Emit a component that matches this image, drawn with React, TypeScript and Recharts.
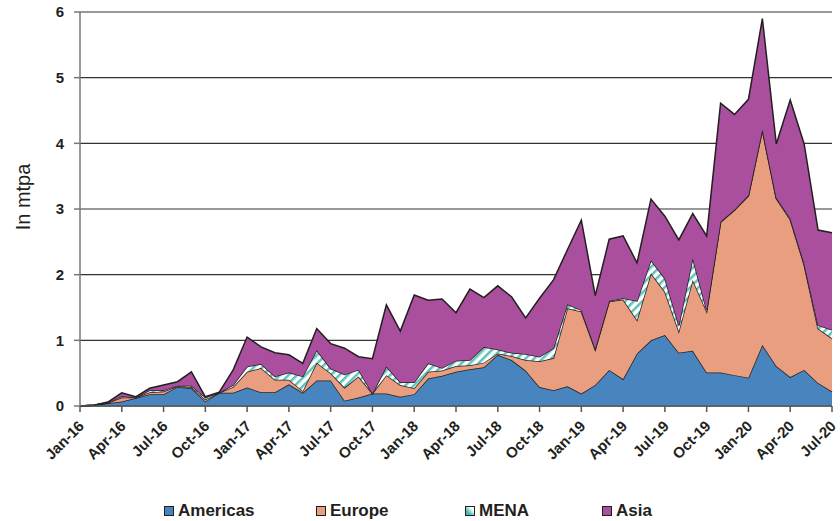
import { AreaChart, Area, XAxis, YAxis, CartesianGrid } from 'recharts';

const months = [
  'Jan-16', 'Feb-16', 'Mar-16', 'Apr-16', 'May-16', 'Jun-16', 'Jul-16', 'Aug-16', 'Sep-16', 'Oct-16', 'Nov-16', 'Dec-16',
  'Jan-17', 'Feb-17', 'Mar-17', 'Apr-17', 'May-17', 'Jun-17', 'Jul-17', 'Aug-17', 'Sep-17', 'Oct-17', 'Nov-17', 'Dec-17',
  'Jan-18', 'Feb-18', 'Mar-18', 'Apr-18', 'May-18', 'Jun-18', 'Jul-18', 'Aug-18', 'Sep-18', 'Oct-18', 'Nov-18', 'Dec-18',
  'Jan-19', 'Feb-19', 'Mar-19', 'Apr-19', 'May-19', 'Jun-19', 'Jul-19', 'Aug-19', 'Sep-19', 'Oct-19', 'Nov-19', 'Dec-19',
  'Jan-20', 'Feb-20', 'Mar-20', 'Apr-20', 'May-20', 'Jun-20', 'Jul-20',
];

// mtpa per region, one value per month
const americas = [
  0, 0.01, 0.04, 0.07, 0.12, 0.18, 0.18, 0.29, 0.27, 0.07, 0.2, 0.2,
  0.28, 0.21, 0.21, 0.33, 0.2, 0.39, 0.39, 0.08, 0.13, 0.19, 0.19, 0.14,
  0.18, 0.42, 0.46, 0.52, 0.56, 0.59, 0.78, 0.7, 0.54, 0.29, 0.24, 0.3,
  0.19, 0.32, 0.55, 0.41, 0.8, 1.0, 1.08, 0.81, 0.84, 0.51, 0.51, 0.47,
  0.43, 0.93, 0.61, 0.44, 0.55, 0.35, 0.22,
];
const europe = [
  0, 0, 0.01, 0.06, 0.01, 0.03, 0.04, 0.01, 0.02, 0.03, 0, 0.09,
  0.24, 0.37, 0.19, 0.07, 0.03, 0.27, 0.11, 0.2, 0.32, 0, 0.28, 0.18,
  0.09, 0.1, 0.08, 0.09, 0.06, 0.07, 0.02, 0.06, 0.16, 0.39, 0.49, 1.19,
  1.25, 0.54, 1.04, 1.21, 0.51, 1.02, 0.66, 0.33, 1.08, 0.93, 2.29, 2.51,
  2.77, 3.27, 2.55, 2.4, 1.6, 0.83, 0.81,
];
const mena = [
  0, 0, 0, 0.02, 0, 0.03, 0.02, 0.01, 0.02, 0.03, 0, 0.03,
  0.08, 0.06, 0.05, 0.11, 0.22, 0.19, 0.07, 0.2, 0.1, 0, 0.13, 0.04,
  0.09, 0.13, 0.04, 0.08, 0.08, 0.24, 0.06, 0.05, 0.09, 0.07, 0.15, 0.06,
  0.02, 0.01, 0.01, 0.02, 0.29, 0.2, 0.2, 0.09, 0.33, 0.02, 0.01, 0.01,
  0.01, 0.01, 0.01, 0.02, 0.02, 0.05, 0.13,
];
const asia = [
  0, 0, 0.01, 0.05, 0.01, 0.03, 0.08, 0.06, 0.21, 0.01, 0.01, 0.23,
  0.45, 0.26, 0.36, 0.27, 0.2, 0.33, 0.38, 0.4, 0.2, 0.53, 0.94, 0.78,
  1.33, 0.96, 1.05, 0.73, 1.08, 0.75, 0.97, 0.85, 0.55, 0.89, 1.04, 0.83,
  1.37, 0.81, 0.94, 0.95, 0.58, 0.93, 0.95, 1.3, 0.68, 1.13, 1.8, 1.45,
  1.46, 1.69, 0.82, 1.8, 1.82, 1.45, 1.48,
];

const yTicks = [0, 1, 2, 3, 4, 5, 6];

const data = months.map((month, i) => ({
  month,
  Americas: americas[i],
  Europe: europe[i],
  MENA: mena[i],
  Asia: asia[i],
}));

const FONT = '"Liberation Sans", Arial, sans-serif';
const INK = '#231f20';

const series = [
  { key: 'Americas', fill: '#4884bd' },
  { key: 'Europe', fill: '#e99e80' },
  { key: 'MENA', fill: 'url(#menaStripes)' },
  { key: 'Asia', fill: '#a94f9d' },
];

const legendItems = [
  { name: 'Americas', left: 164, swatch: '#4884bd' },
  { name: 'Europe', left: 316, swatch: '#e99e80' },
  { name: 'MENA', left: 465, swatch: 'linear-gradient(45deg, #49bdb5 0%, #49bdb5 30%, #ffffff 75%)' },
  { name: 'Asia', left: 602, swatch: '#a94f9d' },
];

function MonthTick({ x, y, payload }: any) {
  const ax = x + 5;
  const ay = y + 13;
  return (
    <text
      x={ax}
      y={ay}
      transform={`rotate(-45 ${ax} ${ay})`}
      textAnchor="end"
      fontFamily={FONT}
      fontSize={15}
      fontWeight="bold"
      fill={INK}
    >
      {payload.value}
    </text>
  );
}

function AxisTitle() {
  return (
    <text
      x={30}
      y={197}
      transform="rotate(-90 30 197)"
      textAnchor="middle"
      fontFamily={FONT}
      fontSize={20}
      fill={INK}
    >
      In mtpa
    </text>
  );
}

export default function App() {
  return (
    <div style={{ position: 'absolute', left: 0, top: 0, width: 840, height: 521, background: '#fff' }}>
      <AreaChart width={840} height={521} data={data} margin={{ top: 12, right: 8, left: 20, bottom: 55 }}>
        <defs>
          <pattern id="menaStripes" width="6" height="6" patternUnits="userSpaceOnUse" patternTransform="rotate(45)">
            <rect width="6" height="6" fill="#ffffff" />
            <rect width="2.5" height="6" fill="#5cc3bb" />
          </pattern>
        </defs>
        <CartesianGrid vertical={false} stroke="#333" strokeWidth={1.2} />
        <XAxis
          dataKey="month"
          interval={2}
          height={60}
          tickSize={6}
          axisLine={{ stroke: '#555', strokeWidth: 1.5 }}
          tickLine={{ stroke: '#555', strokeWidth: 1.5 }}
          tick={<MonthTick />}
        />
        <YAxis
          domain={[0, 6]}
          ticks={yTicks}
          width={60}
          tickSize={6}
          tickMargin={10}
          axisLine={{ stroke: '#777', strokeWidth: 1.5 }}
          tickLine={{ stroke: '#777', strokeWidth: 1.5 }}
          tick={{ fontFamily: FONT, fontSize: 15, fontWeight: 'bold', fill: INK }}
          label={{ content: () => <AxisTitle /> }}
        />
        {series.map((s) => (
          <Area
            key={s.key}
            type="linear"
            dataKey={s.key}
            stackId="regions"
            stroke={INK}
            strokeWidth={1.5}
            fill={s.fill}
            fillOpacity={1}
            dot={false}
            activeDot={false}
            isAnimationActive={false}
          />
        ))}
      </AreaChart>
      {legendItems.map((item) => (
        <div
          key={item.name}
          style={{
            position: 'absolute',
            left: item.left,
            top: 501,
            display: 'flex',
            alignItems: 'center',
            fontFamily: FONT,
            fontSize: 17,
            fontWeight: 'bold',
            color: INK,
          }}
        >
          <span
            style={{
              display: 'inline-block',
              width: 8,
              height: 8,
              border: `1px solid ${INK}`,
              background: item.swatch,
              marginRight: 4,
            }}
          />
          {item.name}
        </div>
      ))}
    </div>
  );
}
